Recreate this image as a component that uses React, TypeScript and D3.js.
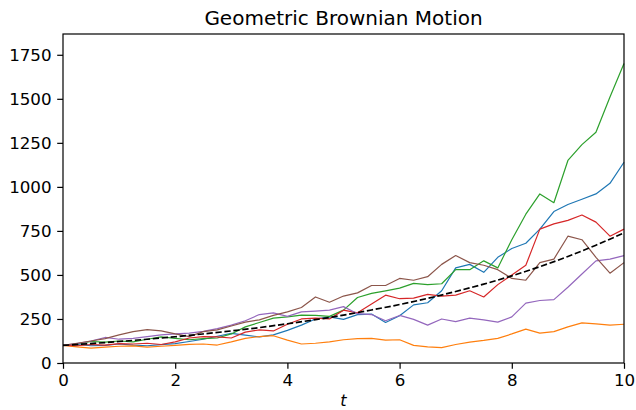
import * as d3 from "d3";
import { useRef, useEffect } from "react";

// sample times, every 0.25 from 0 to 10
const times = [
  0, 0.25, 0.5, 0.75, 1, 1.25, 1.5, 1.75, 2, 2.25, 2.5, 2.75, 3, 3.25, 3.5, 3.75,
  4, 4.25, 4.5, 4.75, 5, 5.25, 5.5, 5.75, 6, 6.25, 6.5, 6.75, 7, 7.25, 7.5, 7.75,
  8, 8.25, 8.5, 8.75, 9, 9.25, 9.5, 9.75, 10,
];

// paths
const blue = [
  100, 105, 98, 100, 108, 102, 98, 104, 110, 122, 135, 152, 168, 158, 148, 160,
  185, 215, 250, 262, 248, 275, 278, 230, 268, 330, 342, 410, 540, 560, 515, 600,
  650, 680, 760, 860, 900, 930, 960, 1020, 1140,
];
const orange = [
  100, 92, 85, 90, 95, 97, 90, 95, 100, 106, 108, 102, 120, 140, 150, 155,
  130, 108, 112, 120, 132, 138, 140, 130, 132, 100, 92, 87, 105, 118, 128, 140,
  165, 192, 170, 178, 205, 228, 222, 215, 220,
];
const green = [
  100, 108, 122, 118, 125, 120, 135, 148, 140, 132, 138, 142, 165, 205, 230, 255,
  262, 272, 270, 265, 300, 372, 395, 410, 425, 452, 445, 450, 530, 530, 580, 540,
  700, 845, 960, 910, 1150, 1240, 1310, 1510, 1700,
];
const red = [
  100, 98, 105, 102, 110, 108, 112, 105, 120, 142, 150, 148, 142, 175, 188, 182,
  220, 250, 255, 250, 300, 285, 335, 385, 365, 368, 390, 380, 385, 410, 375, 445,
  500, 555, 760, 790, 810, 840, 800, 720, 760,
];
const purple = [
  100, 110, 125, 145, 135, 140, 150, 160, 165, 170, 180, 195, 215, 240, 275, 285,
  265, 290, 295, 300, 320, 280, 275, 240, 270, 248, 215, 250, 235, 255, 245, 232,
  262, 340, 355, 360, 430, 505, 580, 590, 610,
];
const brown = [
  100, 112, 125, 138, 160, 178, 190, 182, 165, 150, 178, 188, 210, 232, 245, 270,
  290, 315, 375, 345, 380, 398, 440, 440, 480, 470, 490, 560, 610, 570, 555, 530,
  480, 470, 570, 590, 720, 700, 600, 510, 570,
];
// expected value curve, read at every 0.5
const meanTimes = [0, 0.5, 1, 1.5, 2, 2.5, 3, 3.5, 4, 4.5, 5, 5.5, 6, 6.5, 7, 7.5, 8, 8.5, 9, 9.5, 10];
const meanValues = [100, 110.5, 122, 135, 149, 165, 182, 201, 223, 246, 272, 301, 332, 367, 406, 448, 495, 547, 605, 669, 739];

const seriesList = [blue, orange, green, red, purple, brown];
const colors = ["#1f77b4", "#ff7f0e", "#2ca02c", "#d62728", "#9467bd", "#8c564b"];
const xTicks = [0, 2, 4, 6, 8, 10];
const yTicks = [0, 250, 500, 750, 1000, 1250, 1500, 1750];

const App = () => {
  const chartRef = useRef(null);

  const width = 636;
  const height = 410;
  const margin = { top: 34, bottom: 47, left: 63, right: 12 };

  useEffect(() => {
    const svg = d3.select(chartRef.current);
    svg.selectAll("*").remove();

    const scaleX = d3.scaleLinear().domain([0, 10]).range([margin.left, width - margin.right]);
    const scaleY = d3.scaleLinear().domain([0, 1868]).range([height - margin.bottom, margin.top]);

    const line = d3.line().x(d => scaleX(d[0])).y(d => scaleY(d[1]));

    const plot = svg.append("g");
    seriesList.forEach((vals, i) => {
      plot.append("path")
        .datum(times.map((t, j) => [t, vals[j]]))
        .attr("d", line)
        .attr("fill", "none")
        .attr("stroke", colors[i])
        .attr("stroke-width", 1.2)
        .attr("stroke-linejoin", "round");
    });

    plot.append("path")
      .datum(meanTimes.map((t, j) => [t, meanValues[j]]))
      .attr("d", d3.line().x(d => scaleX(d[0])).y(d => scaleY(d[1])).curve(d3.curveMonotoneX))
      .attr("fill", "none")
      .attr("stroke", "black")
      .attr("stroke-width", 1.7)
      .attr("stroke-dasharray", "6.3,2.7");

    const xAxis = d3.axisBottom(scaleX).tickValues(xTicks).tickSize(5.8).tickPadding(5.6).tickFormat(d3.format("d"));
    const gx = svg.append("g")
      .attr("transform", `translate(0, ${height - margin.bottom})`)
      .call(xAxis);

    const yAxis = d3.axisLeft(scaleY).tickValues(yTicks).tickSize(5.8).tickPadding(5.6).tickFormat(d3.format("d"));
    const gy = svg.append("g")
      .attr("transform", `translate(${margin.left}, 0)`)
      .call(yAxis);

    [gx, gy].forEach(g => {
      g.select(".domain").remove();
      g.selectAll("line").attr("stroke", "black").attr("stroke-width", 1.2);
      g.selectAll("text")
        .attr("fill", "black")
        .style("font-family", "DejaVu Sans")
        .style("font-size", "16.7px");
    });

    // frame
    svg.append("rect")
      .attr("x", margin.left)
      .attr("y", margin.top)
      .attr("width", width - margin.left - margin.right)
      .attr("height", height - margin.top - margin.bottom)
      .attr("fill", "none")
      .attr("stroke", "black")
      .attr("stroke-width", 1.2);

    svg.append("text")
      .attr("x", (margin.left + width - margin.right) / 2)
      .attr("y", 24.5)
      .attr("text-anchor", "middle")
      .style("font-family", "DejaVu Sans")
      .style("font-size", "20px")
      .text("Geometric Brownian Motion");

    svg.append("text")
      .attr("x", (margin.left + width - margin.right) / 2)
      .attr("y", 406)
      .attr("text-anchor", "middle")
      .style("font-family", "DejaVu Sans")
      .style("font-style", "italic")
      .style("font-size", "16px")
      .text("t");
  }, []);

  return (
    <svg ref={chartRef} width={width} height={height}
      style={{ position: "absolute", left: 0, top: 0, background: "white" }}></svg>
  );
};

export default App;
